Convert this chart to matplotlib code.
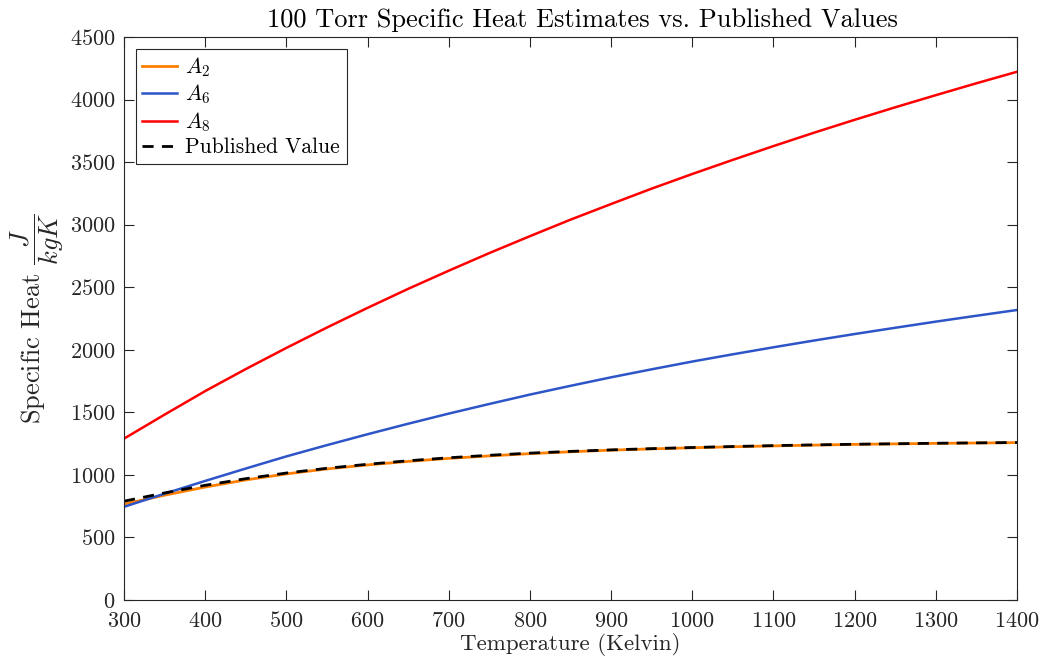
import numpy as np
import matplotlib
matplotlib.use("Agg")
import matplotlib.pyplot as plt

plt.rcParams['font.family'] = 'cmr10'
plt.rcParams['mathtext.fontset'] = 'cm'
plt.rcParams['axes.formatter.use_mathtext'] = True

# Temperatures (K) and specific heat estimates (J/kgK)
temperature = [300, 350, 400, 450, 500, 550, 600, 650, 700, 750, 800, 850,
               900, 950, 1000, 1050, 1100, 1150, 1200, 1250, 1300, 1350, 1400]
cp_a2 = [767, 838, 903, 960, 1008, 1048, 1080, 1108, 1132, 1152, 1170, 1185,
         1198, 1208, 1217, 1225, 1232, 1238, 1244, 1248, 1252, 1255, 1258]
cp_a6 = [745, 850, 952, 1051, 1148, 1238, 1325, 1409, 1490, 1567, 1642, 1712,
         1780, 1844, 1906, 1964, 2020, 2074, 2126, 2176, 2225, 2272, 2318]
cp_a8 = [1290, 1482, 1670, 1846, 2015, 2178, 2335, 2487, 2632, 2773, 2908, 3040,
         3165, 3288, 3405, 3518, 3628, 3735, 3838, 3938, 4035, 4130, 4222]
cp_published = [790, 856, 917, 970, 1015, 1053, 1085, 1113, 1137, 1157, 1174, 1188,
                1200, 1210, 1219, 1227, 1234, 1240, 1245, 1249, 1253, 1256, 1259]

axis_gray = '#262626'

fig = plt.figure(figsize=(10.44, 6.69), dpi=100)
ax = fig.add_axes([0.1188, 0.1031, 0.8553, 0.8416])

ax.plot(temperature, cp_a2, color='#FF8000', lw=2.0, label='$A_2$')
ax.plot(temperature, cp_a6, color='#2D55C8', lw=1.8, label='$A_6$')
ax.plot(temperature, cp_a8, color='#FF0000', lw=1.8, label='$A_8$')
ax.plot(temperature, cp_published, color='black', lw=2.0, ls=(0, (4, 3)),
        label='Published Value')

ax.set_xlim(300, 1400)
ax.set_ylim(0, 4500)
ax.set_xticks(np.arange(300, 1401, 100))
ax.set_yticks(np.arange(0, 4501, 500))

ax.tick_params(direction='in', length=7, width=0.8, top=True, right=True,
               labelsize=16, colors=axis_gray)
ax.tick_params(axis='x', pad=8)
ax.tick_params(axis='y', pad=6)
for spine in ax.spines.values():
    spine.set_color(axis_gray)
    spine.set_linewidth(0.8)

ax.set_title('100 Torr Specific Heat Estimates vs. Published Values',
             fontsize=19, pad=7, x=0.513)
ax.set_xlabel('Temperature (Kelvin)', fontsize=16.5, color=axis_gray, labelpad=1)
ax.set_ylabel(r'Specific Heat $\dfrac{J}{kgK}$', fontsize=19, color=axis_gray,
              labelpad=3)

leg = ax.legend(loc='upper left', fontsize=15.5, handlelength=1.6,
                fancybox=False, framealpha=1, borderaxespad=0.55,
                labelspacing=0.18, handletextpad=0.4, borderpad=0.3)
leg.get_frame().set_edgecolor(axis_gray)
leg.get_frame().set_linewidth(0.8)

fig.savefig('out.png', dpi=100)
